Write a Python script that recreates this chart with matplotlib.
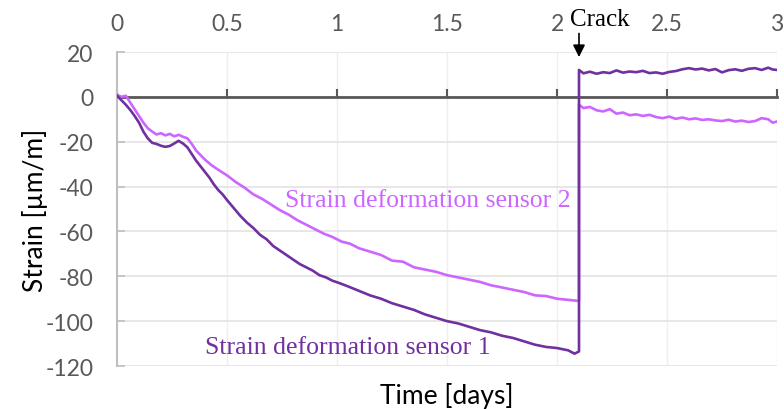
import matplotlib
matplotlib.use("Agg")
import matplotlib.pyplot as plt

# sensor 1 (dark purple)
t1 = [0, 0.02, 0.04, 0.06, 0.08, 0.10, 0.12, 0.14, 0.16, 0.18, 0.20, 0.22, 0.24, 0.26, 0.28,
      0.30, 0.32, 0.34, 0.36, 0.38, 0.40, 0.42, 0.44, 0.46, 0.48, 0.50, 0.53, 0.56, 0.59, 0.62,
      0.65, 0.68, 0.71, 0.74, 0.77, 0.80, 0.83, 0.86, 0.89, 0.92, 0.95, 0.98, 1.01, 1.05, 1.10,
      1.15, 1.20, 1.25, 1.30, 1.35, 1.40, 1.45, 1.50, 1.55, 1.60, 1.65, 1.70, 1.75, 1.80, 1.85,
      1.90, 1.95, 2.00, 2.05, 2.08, 2.10,
      2.10, 2.12, 2.15, 2.18, 2.21, 2.24, 2.27, 2.30, 2.33, 2.36, 2.39, 2.42, 2.45, 2.48, 2.51,
      2.54, 2.57, 2.60, 2.63, 2.66, 2.69, 2.72, 2.75, 2.78, 2.81, 2.84, 2.87, 2.90, 2.93, 2.96,
      2.98, 3.00]
s1 = [0.5, -1.5, -3.5, -5.8, -8.5, -11.5, -15.5, -18.5, -20.5, -21.0, -21.8, -22.3, -21.9, -20.8, -19.6,
      -20.8, -22.5, -25.5, -28.5, -31.0, -33.5, -36.0, -39.0, -41.5, -43.5, -46.0, -49.5, -53.0, -56.0, -58.5,
      -61.5, -63.5, -66.5, -68.5, -70.5, -72.5, -74.5, -76.0, -77.5, -79.5, -80.5, -82.0, -83.0, -84.5, -86.5,
      -88.5, -90.0, -92.0, -93.5, -95.0, -97.0, -98.5, -100.0, -101.0, -102.5, -104.0, -105.0, -106.5, -107.5, -109.0,
      -110.5, -111.5, -112.0, -113.0, -114.5, -113.5,
      12.0, 10.5, 11.2, 10.3, 11.0, 10.6, 11.8, 10.8, 11.3, 11.0, 11.6, 10.6, 10.9, 10.3, 11.1,
      11.5, 12.3, 12.8, 12.2, 12.6, 11.8, 12.4, 10.9, 11.9, 12.3, 11.6, 12.5, 12.8, 12.0, 13.0,
      12.2, 12.0]

# sensor 2 (light purple)
t2 = [0, 0.02, 0.04, 0.06, 0.08, 0.10, 0.12, 0.14, 0.16, 0.18, 0.20, 0.22, 0.24, 0.26, 0.28,
      0.30, 0.32, 0.34, 0.36, 0.38, 0.40, 0.43, 0.46, 0.50, 0.54, 0.58, 0.62, 0.66, 0.70, 0.74,
      0.78, 0.82, 0.86, 0.90, 0.94, 0.98, 1.02, 1.06, 1.10, 1.15, 1.20, 1.25, 1.30, 1.35, 1.40,
      1.45, 1.50, 1.55, 1.60, 1.65, 1.70, 1.75, 1.80, 1.85, 1.90, 1.95, 2.00, 2.05, 2.10,
      2.10, 2.12, 2.15, 2.18, 2.21, 2.24, 2.27, 2.30, 2.33, 2.36, 2.39, 2.42, 2.45, 2.48, 2.51,
      2.54, 2.57, 2.60, 2.63, 2.66, 2.69, 2.72, 2.75, 2.78, 2.81, 2.84, 2.87, 2.90, 2.93, 2.96,
      2.98, 3.00]
s2 = [1.0, 0.0, 0.5, -2.5, -5.5, -8.5, -11.5, -14.0, -15.5, -16.8, -16.2, -17.2, -16.5, -17.6, -16.9,
      -17.8, -18.5, -21.0, -24.0, -26.0, -28.0, -30.5, -32.5, -35.0, -38.0, -40.5, -43.5, -45.5, -48.0, -50.5,
      -52.5, -55.0, -57.0, -59.0, -61.0, -62.5, -64.5, -65.5, -67.5, -69.0, -70.5, -73.0, -73.5, -76.0, -77.0,
      -78.0, -79.5, -80.5, -81.5, -82.5, -84.0, -85.0, -86.0, -87.0, -88.5, -88.8, -90.0, -90.5, -91.0,
      -3.5, -5.0, -4.5, -6.0, -6.5, -5.5, -7.5, -7.0, -8.2, -7.8, -8.5, -8.0, -9.0, -9.5, -8.8,
      -9.8, -9.2, -10.0, -9.6, -10.3, -10.0, -10.5, -10.8, -10.2, -11.0, -10.6, -11.2, -10.8, -9.5, -10.0,
      -11.5, -11.0]

crack_t = 2.1
x_ticks = [0, 0.5, 1, 1.5, 2, 2.5, 3]
x_labels = ['0', '0.5', '1', '1.5', '2', '2.5', '3']
y_ticks = [20, 0, -20, -40, -60, -80, -100, -120]

dark = '#7030A0'
light = '#CC66FF'
gray = '#595959'

plt.rcParams['font.family'] = ['Lato', 'DejaVu Sans']
plt.rcParams['axes.unicode_minus'] = False

fig = plt.figure(figsize=(7.84, 4.10), dpi=100)
ax = fig.add_axes([117/784, 1 - 367/410, 660/784, 314/410])

ax.plot(t2, s2, color=light, lw=1.9, zorder=3)
ax.plot(t1, s1, color=dark, lw=1.9, zorder=4)

ax.set_xlim(0, 3)
ax.set_ylim(-120, 20)

# gridlines
for x in x_ticks[1:]:
    ax.axvline(x, color='#EFEFEF', lw=1, zorder=0)
for y in y_ticks:
    ax.axhline(y, color='#E3E3E3', lw=1.2, zorder=0)

# spines
for s in ['top', 'right']:
    ax.spines[s].set_visible(False)
ax.spines['bottom'].set_position(('data', 0))
ax.spines['bottom'].set_color(gray)
ax.spines['bottom'].set_linewidth(2)
ax.spines['bottom'].set_zorder(2)
ax.spines['left'].set_color('#BFBFBF')
ax.spines['left'].set_linewidth(1.5)

ax.set_xticks(x_ticks)
ax.set_xticklabels(x_labels)
ax.set_yticks(y_ticks)
ax.tick_params(axis='x', direction='in', length=6, width=1.5, color=gray,
               labelbottom=False, labeltop=True, pad=13, labelsize=16.5, labelcolor=gray)
ax.tick_params(axis='y', direction='in', length=6, width=1.2, color='#BFBFBF',
               labelsize=16.5, labelcolor=gray, pad=17)

fig.text(35/784, 0.5 * ((1 - 53/410) + (1 - 367/410)), 'Strain [µm/m]', rotation=90,
         ha='center', va='center', fontsize=19)
fig.text(447/784, 1 - 396/410, 'Time [days]', ha='center', va='center', fontsize=19)

serif = ['Liberation Serif', 'DejaVu Serif']
ax.text(0.764, -46, 'Strain deformation sensor 2', color=light, fontsize=18.5,
        family=serif, ha='left', va='center')
ax.text(0.40, -111.6, 'Strain deformation sensor 1', color=dark, fontsize=18.5,
        family=serif, ha='left', va='center')

ax.annotate('', xy=(crack_t, 16.5), xytext=(crack_t, 29.5),
            arrowprops=dict(arrowstyle='-|>', color='black', lw=1.2, mutation_scale=18),
            annotation_clip=False)
ax.text(2.195, 34.9, 'Crack', family=serif, fontsize=18, ha='center', va='center')

fig.savefig('out.png', dpi=100)
